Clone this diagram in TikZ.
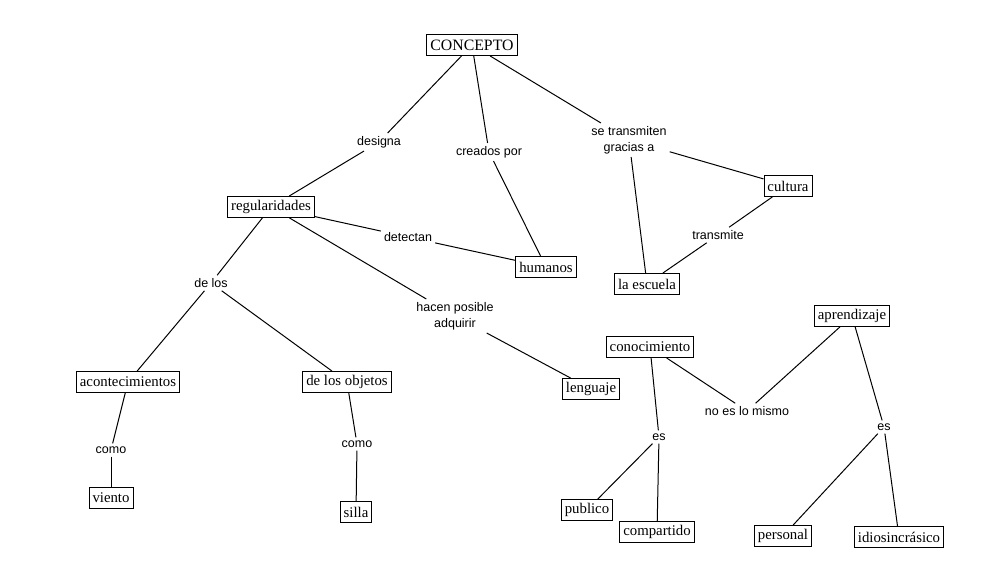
\documentclass[tikz,border=0pt]{standalone}
\usepackage{fontspec}
\setmainfont{Liberation Serif}
\newfontfamily\lblfont{Liberation Sans}
\begin{document}
\begin{tikzpicture}[x=1pt,y=-1pt,
  concept/.style={draw, line width=0.9pt, font=\fontsize{14.8}{16}\selectfont, inner xsep=3.5pt, inner ysep=0pt, minimum height=21pt},
  lbl/.style={font=\lblfont\fontsize{12.5}{16}\selectfont, inner sep=3pt, align=center},
  conn/.style={line width=1pt}]
\fill[white] (0,0) rectangle (985,588);
\useasboundingbox (0,0) rectangle (985,588);
% concepts
\node[concept, font=\fontsize{15.8}{17}\selectfont] (concepto) at (472,45) {CONCEPTO};
\node[concept] (reg) at (271,207) {regularidades};
\node[concept] (hum) at (546,267) {humanos};
\node[concept] (cul) at (788,186) {cultura};
\node[concept] (esc) at (647,284) {la escuela};
\node[concept] (acon) at (128,382) {acontecimientos};
\node[concept] (obj) at (347,382) {de los objetos};
\node[concept] (vie) at (111,498) {viento};
\node[concept] (sil) at (356,512) {silla};
\node[concept] (len) at (591,389) {lenguaje};
\node[concept] (con) at (650,347) {conocimiento};
\node[concept] (apr) at (852,316) {aprendizaje};
\node[concept] (pub) at (587,510) {publico};
\node[concept] (com) at (657,532) {compartido};
\node[concept] (per) at (783,536) {personal};
\node[concept] (idi) at (899,537) {idiosincrásico};
% link labels
\node[lbl] (designa) at (379,142) {designa};
\node[lbl] (creados) at (489,152) {creados por};
\node[lbl] (setrans) at (629,140) {se transmiten\\gracias a};
\node[lbl] (detectan) at (408,237) {detectan};
\node[lbl] (transmite) at (718,235) {transmite};
\node[lbl] (delos) at (211,283) {de los};
\node[lbl] (hacen) at (455,316) {hacen posible\\adquirir};
\node[lbl] (como1) at (111,450) {como};
\node[lbl] (como2) at (357,444) {como};
\node[lbl] (es1) at (659,437) {es};
\node[lbl] (noes) at (747,411) {no es lo mismo};
\node[lbl] (es2) at (884,427) {es};
% connectors
\draw[conn] (concepto) -- (designa);
\draw[conn] (designa) -- (reg);
\draw[conn] (concepto) -- (creados);
\draw[conn] (creados) -- (hum);
\draw[conn] (concepto) -- (setrans);
\draw[conn] (setrans) -- (cul);
\draw[conn] (setrans) -- (esc);
\draw[conn] (reg) -- (detectan);
\draw[conn] (detectan) -- (hum);
\draw[conn] (cul) -- (transmite);
\draw[conn] (transmite) -- (esc);
\draw[conn] (reg) -- (delos);
\draw[conn] (delos) -- (acon);
\draw[conn] (delos) -- (obj);
\draw[conn] (reg) -- (hacen);
\draw[conn] (hacen) -- (len);
\draw[conn] (acon) -- (como1);
\draw[conn] (como1) -- (vie);
\draw[conn] (obj) -- (como2);
\draw[conn] (como2) -- (sil);
\draw[conn] (con) -- (es1);
\draw[conn] (es1) -- (pub);
\draw[conn] (es1) -- (com);
\draw[conn] (con) -- (noes);
\draw[conn] (noes) -- (apr);
\draw[conn] (apr) -- (es2);
\draw[conn] (es2) -- (per);
\draw[conn] (es2) -- (idi);
\end{tikzpicture}
\end{document}
